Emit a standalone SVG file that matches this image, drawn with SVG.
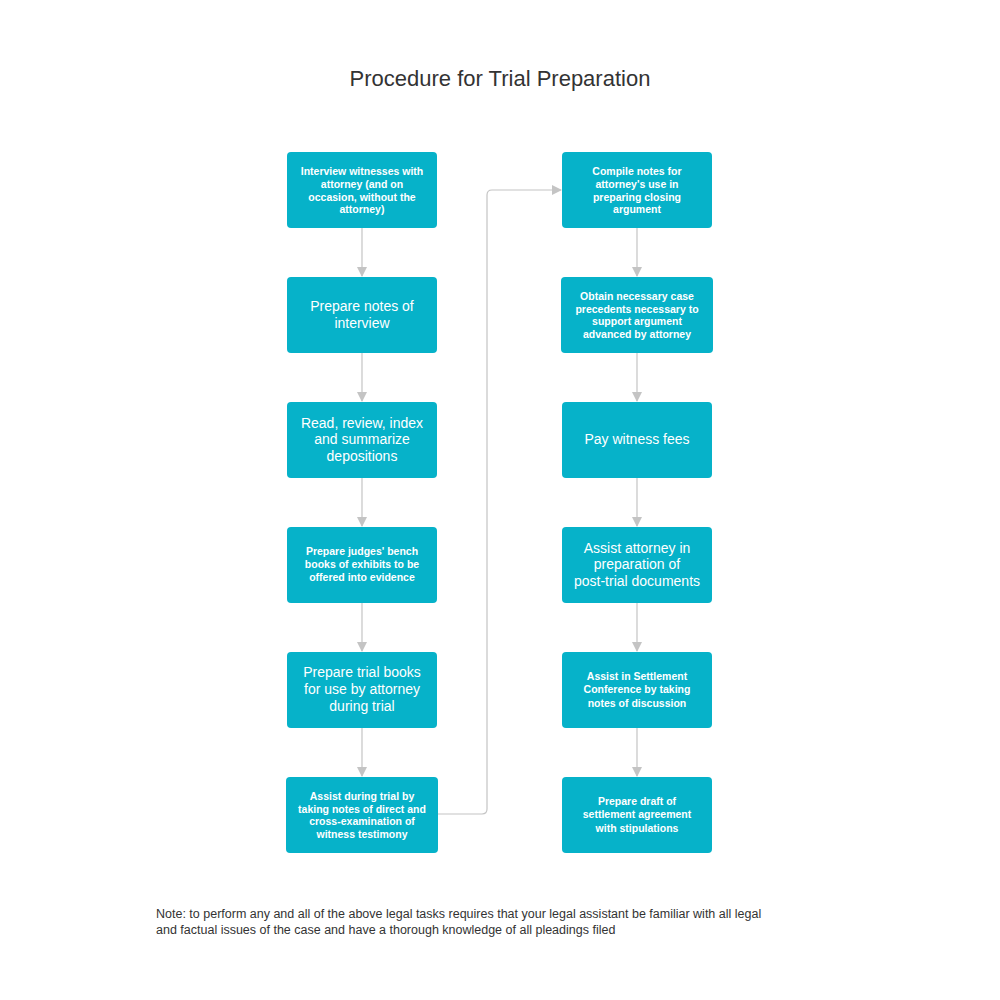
<svg xmlns="http://www.w3.org/2000/svg" width="1000" height="1000" viewBox="0 0 1000 1000">
<style>
.b{fill:#06b2c9}
.s{font-family:"Liberation Sans",Arial,sans-serif;font-size:10.5px;font-weight:bold;fill:#fff;text-anchor:middle}
.l{font-family:"Liberation Sans",Arial,sans-serif;font-size:14px;fill:#fff;text-anchor:middle}
.c{fill:none;stroke:#c4c4c4;stroke-width:1.2}
</style>
<defs><marker id="a" markerWidth="10" markerHeight="10" refX="9" refY="5" orient="auto" markerUnits="userSpaceOnUse"><path d="M0,0L10,5L0,10z" fill="#c4c4c4"/></marker></defs>
<rect width="1000" height="1000" fill="#fff"/>
<text x="500" y="86" font-family="Liberation Sans,Arial,sans-serif" font-size="22" fill="#333" text-anchor="middle">Procedure for Trial Preparation</text>
<g id="connectors">
<path class="c" marker-end="url(#a)" d="M362,228V276"/>
<path class="c" marker-end="url(#a)" d="M362,353V401"/>
<path class="c" marker-end="url(#a)" d="M362,478V526"/>
<path class="c" marker-end="url(#a)" d="M362,603V651"/>
<path class="c" marker-end="url(#a)" d="M362,728V776"/>
<path class="c" marker-end="url(#a)" d="M438,814H482Q487,814 487,809V195Q487,190 492,190H561"/>
<path class="c" marker-end="url(#a)" d="M637,228V276"/>
<path class="c" marker-end="url(#a)" d="M637,353V401"/>
<path class="c" marker-end="url(#a)" d="M637,478V526"/>
<path class="c" marker-end="url(#a)" d="M637,603V651"/>
<path class="c" marker-end="url(#a)" d="M637,728V776"/>
</g>
<g id="n1"><rect class="b" x="287" y="152" width="150" height="76" rx="4"/><text class="s" x="362"><tspan x="362" y="175">Interview witnesses with</tspan><tspan x="362" y="188">attorney (and on</tspan><tspan x="362" y="201">occasion, without the</tspan><tspan x="362" y="213">attorney)</tspan></text></g>
<g id="n2"><rect class="b" x="287" y="277" width="150" height="76" rx="4"/><text class="l"><tspan x="362" y="311">Prepare notes of</tspan><tspan x="362" y="328">interview</tspan></text></g>
<g id="n3"><rect class="b" x="287" y="402" width="150" height="76" rx="4"/><text class="l"><tspan x="362" y="428">Read, review, index</tspan><tspan x="362" y="444">and summarize</tspan><tspan x="362" y="461">depositions</tspan></text></g>
<g id="n4"><rect class="b" x="287" y="527" width="150" height="76" rx="4"/><text class="s"><tspan x="362" y="555">Prepare judges' bench</tspan><tspan x="362" y="568">books of exhibits to be</tspan><tspan x="362" y="581">offered into evidence</tspan></text></g>
<g id="n5"><rect class="b" x="287" y="652" width="150" height="76" rx="4"/><text class="l"><tspan x="362" y="677">Prepare trial books</tspan><tspan x="362" y="694">for use by attorney</tspan><tspan x="362" y="711">during trial</tspan></text></g>
<g id="n6"><rect class="b" x="286" y="777" width="152" height="76" rx="4"/><text class="s"><tspan x="362" y="800">Assist during trial by</tspan><tspan x="362" y="813">taking notes of direct and</tspan><tspan x="362" y="825">cross-examination of</tspan><tspan x="362" y="838">witness testimony</tspan></text></g>
<g id="n7"><rect class="b" x="562" y="152" width="150" height="76" rx="4"/><text class="s"><tspan x="637" y="175">Compile notes for</tspan><tspan x="637" y="188">attorney's use in</tspan><tspan x="637" y="201">preparing closing</tspan><tspan x="637" y="213">argument</tspan></text></g>
<g id="n8"><rect class="b" x="561" y="277" width="152" height="76" rx="4"/><text class="s"><tspan x="637" y="300">Obtain necessary case</tspan><tspan x="637" y="313">precedents necessary to</tspan><tspan x="637" y="325">support argument</tspan><tspan x="637" y="338">advanced by attorney</tspan></text></g>
<g id="n9"><rect class="b" x="562" y="402" width="150" height="76" rx="4"/><text class="l"><tspan x="637" y="444">Pay witness fees</tspan></text></g>
<g id="n10"><rect class="b" x="562" y="527" width="150" height="76" rx="4"/><text class="l"><tspan x="637" y="553">Assist attorney in</tspan><tspan x="637" y="569">preparation of</tspan><tspan x="637" y="586">post-trial documents</tspan></text></g>
<g id="n11"><rect class="b" x="562" y="652" width="150" height="76" rx="4"/><text class="s"><tspan x="637" y="680">Assist in Settlement</tspan><tspan x="637" y="693">Conference by taking</tspan><tspan x="637" y="707">notes of discussion</tspan></text></g>
<g id="n12"><rect class="b" x="562" y="777" width="150" height="76" rx="4"/><text class="s"><tspan x="637" y="805">Prepare draft of</tspan><tspan x="637" y="818">settlement agreement</tspan><tspan x="637" y="832">with stipulations</tspan></text></g>
<text font-family="Liberation Sans,Arial,sans-serif" font-size="12.5" fill="#333"><tspan x="156" y="918">Note: to perform any and all of the above legal tasks requires that your legal assistant be familiar with all legal</tspan><tspan x="156" y="934">and factual issues of the case and have a thorough knowledge of all pleadings filed</tspan></text>
</svg>
